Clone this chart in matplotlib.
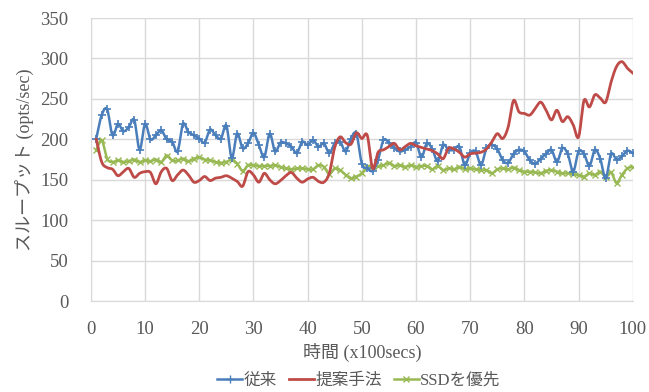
import numpy as np
import matplotlib
matplotlib.use("Agg")
import matplotlib.pyplot as plt

plt.rcParams['font.family'] = ['Liberation Serif', 'Noto Sans CJK JP']

# time steps (x100 secs)
steps = list(range(1, 101))

conventional = [201, 230, 237, 205, 219, 210, 215, 224, 187, 219,
                200, 205, 211, 200, 197, 185, 219, 209, 205, 201,
                196, 212, 205, 201, 217, 177, 207, 189, 195, 208,
                193, 178, 207, 185, 196, 195, 191, 183, 197, 193,
                199, 191, 195, 183, 195, 197, 185, 201, 207, 170,
                164, 161, 175, 199, 196, 189, 185, 187, 191, 196,
                178, 195, 188, 173, 193, 187, 187, 191, 168, 183,
                185, 168, 189, 193, 188, 174, 171, 182, 187, 185,
                174, 170, 176, 182, 187, 172, 189, 182, 160, 185,
                182, 167, 187, 176, 152, 182, 175, 179, 186, 183]

proposed = [200, 172, 165, 163, 155, 160, 164, 153, 158, 160,
            159, 145, 160, 164, 149, 156, 162, 156, 147, 149,
            154, 149, 152, 153, 155, 152, 148, 142, 160, 156,
            147, 158, 150, 145, 149, 155, 159, 152, 147, 151,
            153, 148, 147, 158, 190, 203, 196, 194, 208, 201,
            205, 164, 184, 187, 191, 195, 187, 191, 195, 192,
            190, 188, 186, 182, 176, 189, 188, 184, 178, 182,
            183, 184, 188, 197, 207, 201, 215, 248, 234, 232,
            230, 238, 246, 236, 224, 236, 222, 228, 218, 203,
            248, 240, 255, 251, 246, 271, 290, 296, 288, 282]

ssd_first = [187, 199, 176, 172, 174, 172, 173, 175, 172, 174,
             173, 175, 172, 180, 174, 174, 176, 173, 176, 178,
             175, 174, 172, 171, 172, 175, 170, 161, 168, 168,
             167, 167, 167, 168, 166, 164, 163, 164, 164, 163,
             163, 168, 166, 157, 164, 162, 156, 152, 154, 158,
             166, 167, 167, 168, 171, 167, 168, 166, 168, 166,
             167, 167, 163, 167, 162, 164, 163, 166, 163, 164,
             163, 162, 162, 158, 163, 164, 163, 165, 162, 160,
             160, 159, 158, 161, 162, 160, 158, 158, 157, 156,
             154, 158, 156, 160, 154, 159, 146, 156, 164, 166]


def smooth(x, y, n=12):
    # Catmull-Rom curve through the points, like a smoothed line in a spreadsheet
    x = np.asarray(x, float)
    y = np.asarray(y, float)
    px = np.concatenate([[2 * x[0] - x[1]], x, [2 * x[-1] - x[-2]]])
    py = np.concatenate([[2 * y[0] - y[1]], y, [2 * y[-1] - y[-2]]])
    t = np.linspace(0, 1, n, endpoint=False)
    xs, ys = [], []
    for i in range(1, len(px) - 2):
        for p, out in ((px, xs), (py, ys)):
            p0, p1, p2, p3 = p[i - 1], p[i], p[i + 1], p[i + 2]
            out.extend(0.5 * (2 * p1 + (-p0 + p2) * t
                              + (2 * p0 - 5 * p1 + 4 * p2 - p3) * t ** 2
                              + (-p0 + 3 * p1 - 3 * p2 + p3) * t ** 3))
    xs.append(x[-1])
    ys.append(y[-1])
    return xs, ys


fig = plt.figure(figsize=(6.49, 3.92), dpi=100)
ax = fig.add_axes([0.140, 0.232, 0.835, 0.722])

blue = '#4a7ebb'
red = '#be4b48'
green = '#98b954'
text_col = '#595959'

sx, sy = smooth(steps, conventional)
ax.plot(sx, sy, color=blue, lw=1.8, zorder=3)
ax.plot(steps, conventional, ls='none', marker='+', ms=6, mew=1.2, color=blue, zorder=3)

sx, sy = smooth(steps, proposed)
ax.plot(sx, sy, color=red, lw=2.0, zorder=4)

sx, sy = smooth(steps, ssd_first)
ax.plot(sx, sy, color=green, lw=1.8, zorder=2)
ax.plot(steps, ssd_first, ls='none', marker='x', ms=4.5, mew=1.0, color=green, zorder=2)

# legend handles with markers on the line
h1, = ax.plot([], [], color=blue, lw=1.8, marker='+', ms=6, label='従来')
h2, = ax.plot([], [], color=red, lw=2.0, label='提案手法')
h3, = ax.plot([], [], color=green, lw=1.8, marker='x', ms=4.5, label='SSDを優先')

ax.set_xlim(0, 100)
ax.set_ylim(0, 350)
ax.set_xticks(range(0, 101, 10))
ax.set_yticks(range(0, 351, 50))
ax.grid(True, color='#d9d9d9', lw=1.0)
ax.set_axisbelow(True)
for s in ['top', 'right']:
    ax.spines[s].set_visible(False)
for s in ['left', 'bottom']:
    ax.spines[s].set_color('#d9d9d9')
ax.tick_params(length=0, labelsize=13.5, colors=text_col)
ax.tick_params(axis='x', pad=14)
ax.tick_params(axis='y', pad=16)

ax.set_xlabel('時間 (x100secs)', fontsize=13, color=text_col, labelpad=4)
ax.set_ylabel('スループット (opts/sec)', fontsize=13, color=text_col, labelpad=5)

leg = fig.legend(handles=[h1, h2, h3], loc='lower center', bbox_to_anchor=(0.553, -0.03),
                 ncol=3, frameon=False, fontsize=12, handlelength=1.5,
                 columnspacing=0.7, handletextpad=0.1)
for t in leg.get_texts():
    t.set_color(text_col)

fig.savefig('out.png', dpi=100)
